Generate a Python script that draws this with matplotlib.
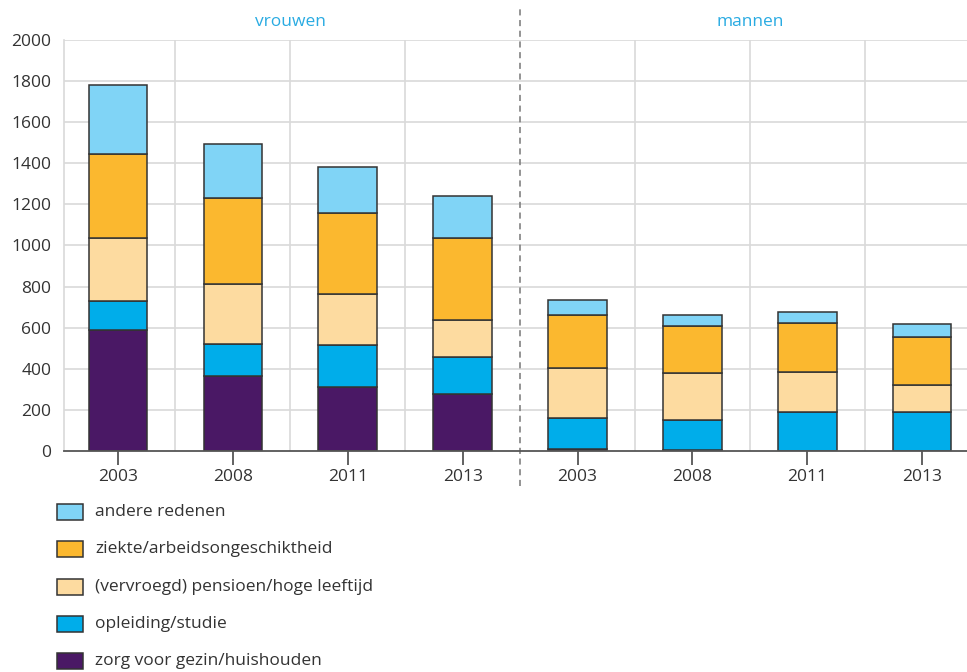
import matplotlib
matplotlib.use("Agg")
import matplotlib.pyplot as plt
from matplotlib.patches import Rectangle
import numpy as np

plt.rcParams["font.family"] = ["Open Sans", "DejaVu Sans"]

# categories: 4 years for women, then 4 years for men
YEARS = ["2003", "2008", "2011", "2013", "2003", "2008", "2011", "2013"]
GROUPS = ["vrouwen", "mannen"]

# stacked series, bottom to top
ZORG      = [590, 365, 313, 277,   8,   3,   0,   0]
OPLEIDING = [141, 157, 201, 180, 153, 150, 190, 190]
PENSIOEN  = [305, 289, 248, 180, 245, 226, 194, 130]
ZIEKTE    = [408, 420, 398, 399, 254, 230, 240, 236]
ANDERE    = [337, 261, 224, 203,  73,  54,  51,  62]

SERIES = [
    ("zorg voor gezin/huishouden", ZORG, "#4a1865"),
    ("opleiding/studie", OPLEIDING, "#00adea"),
    ("(vervroegd) pensioen/hoge leeftijd", PENSIOEN, "#fddba0"),
    ("ziekte/arbeidsongeschiktheid", ZIEKTE, "#fbb82f"),
    ("andere redenen", ANDERE, "#80d4f6"),
]

fig = plt.figure(figsize=(9.67, 6.72), dpi=100)
W, H = 967, 672
ax = fig.add_axes([64 / W, 1 - 451 / H, (W - 64) / W, 411 / H])

x = np.arange(len(YEARS))
bottom = np.zeros(len(YEARS))
for label, vals, color in SERIES:
    ax.bar(x, vals, width=0.51, bottom=bottom, color=color,
           edgecolor="#333333", linewidth=1.1, zorder=3, label=label)
    bottom += np.array(vals)

ax.set_xlim(-0.47, 7.39)
ax.set_ylim(0, 2000)
ax.set_yticks(range(0, 2001, 200))
ax.set_xticks(x)
ax.set_xticklabels(YEARS)

# grid
for yv in range(200, 2001, 200):
    ax.axhline(yv, color="#d9d9d9", lw=1.2, zorder=1)
for xv in [0.5, 1.5, 2.5, 4.5, 5.5, 6.5]:
    ax.axvline(xv, color="#d9d9d9", lw=1.2, zorder=1)

for s in ["top", "right"]:
    ax.spines[s].set_visible(False)
ax.spines["left"].set_color("#d9d9d9")
ax.spines["left"].set_linewidth(1.2)
ax.spines["bottom"].set_color("#555555")
ax.spines["bottom"].set_linewidth(1.3)
ax.spines["bottom"].set_zorder(4)
ax.tick_params(axis="x", length=10, width=1.3, color="#555555",
               labelsize=12.5, labelcolor="#333333", pad=3)
ax.tick_params(axis="y", length=0, labelsize=12.5, labelcolor="#333333", pad=9)

# separator between groups
ax.plot([3.5, 3.5], [-170, 2170], ls=(0, (4, 3)), color="#777777", lw=1.1,
        clip_on=False, zorder=2)

ax.text(1.5, 2090, GROUPS[0], ha="center", va="center", fontsize=12.5, color="#29abe2")
ax.text(5.5, 2090, GROUPS[1], ha="center", va="center", fontsize=12.5, color="#29abe2")

# legend, top entry first
rows_y = [512, 549, 587, 624, 661]
for (label, vals, color), py in zip(SERIES[::-1], rows_y):
    fig.patches.append(Rectangle((57 / W, 1 - (py + 8) / H), 26 / W, 16 / H,
                                 transform=fig.transFigure, facecolor=color,
                                 edgecolor="#333333", linewidth=1.1))
    fig.text(95 / W, 1 - py / H, label, ha="left", va="center",
             fontsize=12.5, color="#333333")

fig.savefig("out.png", dpi=100)
